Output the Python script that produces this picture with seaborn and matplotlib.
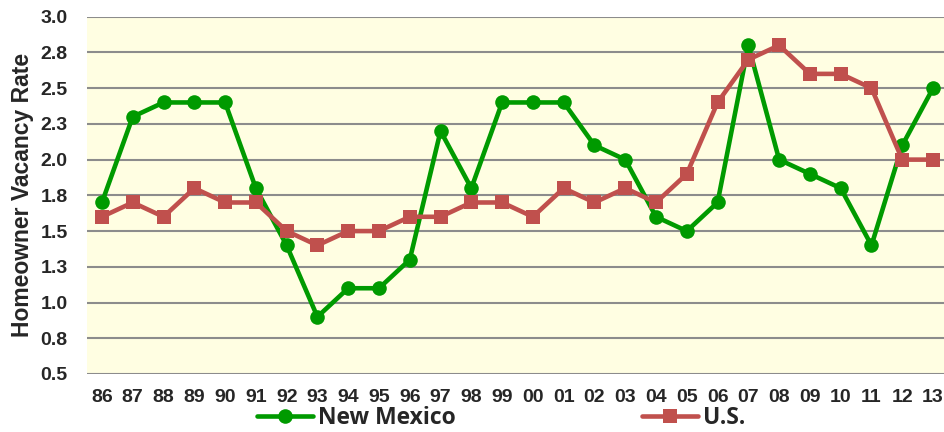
import matplotlib
matplotlib.use("Agg")
import matplotlib.pyplot as plt
import seaborn as sns
import pandas as pd
import numpy as np

years = ["86","87","88","89","90","91","92","93","94","95","96","97","98","99",
         "00","01","02","03","04","05","06","07","08","09","10","11","12","13"]
new_mexico = [1.7, 2.3, 2.4, 2.4, 2.4, 1.8, 1.4, 0.9, 1.1, 1.1, 1.3, 2.2, 1.8, 2.4,
              2.4, 2.4, 2.1, 2.0, 1.6, 1.5, 1.7, 2.8, 2.0, 1.9, 1.8, 1.4, 2.1, 2.5]
us = [1.6, 1.7, 1.6, 1.8, 1.7, 1.7, 1.5, 1.4, 1.5, 1.5, 1.6, 1.6, 1.7, 1.7,
      1.6, 1.8, 1.7, 1.8, 1.7, 1.9, 2.4, 2.7, 2.8, 2.6, 2.6, 2.5, 2.0, 2.0]
y_ticks = [0.5, 0.75, 1.0, 1.25, 1.5, 1.75, 2.0, 2.25, 2.5, 2.75, 3.0]
y_labels = ["0.5", "0.8", "1.0", "1.3", "1.5", "1.8", "2.0", "2.3", "2.5", "2.8", "3.0"]

sns.set_style("white")
plt.rcParams["font.family"] = ["Liberation Sans", "DejaVu Sans"]

df = pd.DataFrame({"pos": np.arange(len(years)), "New Mexico": new_mexico, "U.S.": us})

fig = plt.figure(figsize=(9.44, 4.32), dpi=100)
ax = fig.add_axes([0.0917, 0.1343, 0.913, 0.827])
ax.set_facecolor("#FFFEE2")

green = "#009A00"
red = "#C0504D"
sns.lineplot(data=df, x="pos", y="New Mexico", ax=ax, color=green, linewidth=3.3,
             marker="o", markersize=10.5, markeredgewidth=0, label="New Mexico", zorder=3)
sns.lineplot(data=df, x="pos", y="U.S.", ax=ax, color=red, linewidth=3.3,
             marker="s", markersize=10.5, markeredgewidth=0, label="U.S.", zorder=4)

ax.set_xlim(-0.5, len(years) - 0.5)
ax.set_ylim(0.5, 3.0)
ax.set_yticks(y_ticks)
ax.set_yticklabels(y_labels)
ax.set_xticks(np.arange(len(years)))
ax.set_xticklabels(years)
ax.grid(axis="y", color="#8C8C8C", linewidth=1.5)
ax.grid(axis="x", visible=False)
ax.set_axisbelow(True)
for s in ax.spines.values():
    s.set_visible(False)
ax.tick_params(axis="both", length=0, labelsize=14)
ax.tick_params(axis="y", pad=13.5)
ax.tick_params(axis="x", pad=10.5)
for lab in ax.get_xticklabels() + ax.get_yticklabels():
    lab.set_fontweight("bold")
ax.set_xlabel("")
ax.set_ylabel("Homeowner Vacancy Rate", fontsize=16.5, fontweight="bold")
ax.yaxis.set_label_coords(-0.0605, 0.5)

ax.get_legend().remove()
handles, labels = ax.get_legend_handles_labels()
leg = fig.legend(handles, labels, ncol=2, loc="center left",
                 bbox_to_anchor=(257 / 944, 1 - 418 / 432), frameon=False,
                 prop={"family": ["Open Sans", "DejaVu Sans"], "weight": "bold", "size": 16.5},
                 handlelength=2.45, handletextpad=0.22, columnspacing=8.1,
                 borderpad=0, borderaxespad=0)

fig.savefig("out.png", dpi=100)
